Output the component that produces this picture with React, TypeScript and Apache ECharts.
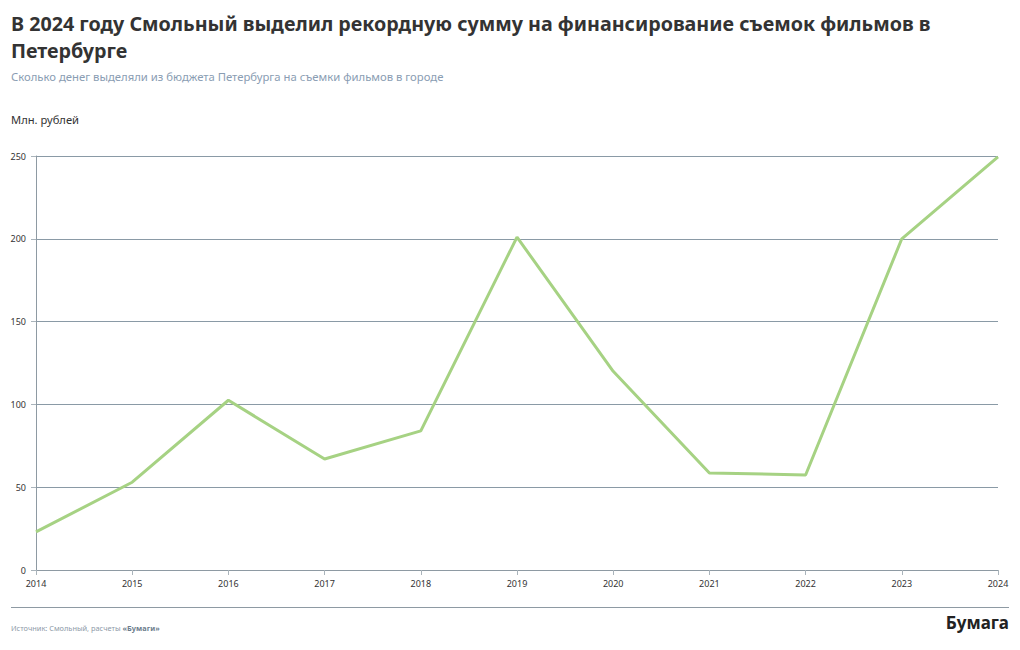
import React, { useEffect, useRef } from "react";
import * as echarts from "echarts";

const years = ["2014", "2015", "2016", "2017", "2018", "2019", "2020", "2021", "2022", "2023", "2024"];
const funding = [23, 53, 102.5, 67, 84, 201, 120, 58.6, 57.4, 200, 249.5];

const titleText = "В 2024 году Смольный выделил рекордную сумму на финансирование съемок фильмов в\nПетербурге";
const subtitleText = "Сколько денег выделяли из бюджета Петербурга на съемки фильмов в городе";
const unitText = "Млн. рублей";

export default function App() {
  const ref = useRef<HTMLDivElement>(null);
  useEffect(() => {
    if (!ref.current) return;
    const chart = echarts.init(ref.current, null, { renderer: "svg" });
    const font = "'Noto Sans', sans-serif";
    chart.setOption({
      animation: false,
      backgroundColor: "#ffffff",
      textStyle: { fontFamily: font },
      grid: { left: 36, right: 22, top: 156, bottom: 80 },
      xAxis: {
        type: "category",
        data: years,
        boundaryGap: false,
        axisLine: { lineStyle: { color: "#8e9aa3", width: 1 } },
        axisTick: { show: true, length: 5, lineStyle: { color: "#aab4bb" } },
        axisLabel: { color: "#333", fontSize: 9, margin: 9, fontFamily: font },
        splitLine: { show: false },
      },
      yAxis: {
        type: "value",
        min: 0,
        max: 250,
        interval: 50,
        axisLine: { show: true, lineStyle: { color: "#8e9aa3", width: 1 } },
        axisTick: { show: true, length: 5, lineStyle: { color: "#aab4bb" } },
        axisLabel: { color: "#333", fontSize: 9, margin: 10, fontFamily: font },
        splitLine: { show: true, lineStyle: { color: "#8a9aa6", width: 1 } },
      },
      series: [
        {
          type: "line",
          data: funding,
          symbol: "none",
          lineStyle: { color: "#a6d283", width: 3 },
        },
      ],
      graphic: [
        {
          type: "text",
          left: 11,
          top: 10,
          style: {
            text: titleText,
            font: "bold 19.7px 'Noto Sans', sans-serif",
            fill: "#333333",
            lineHeight: 27,
          },
        },
        {
          type: "text",
          left: 11,
          top: 71,
          style: {
            text: subtitleText,
            font: "11.3px 'Noto Sans', sans-serif",
            fill: "#8a9db3",
          },
        },
        {
          type: "text",
          left: 11,
          top: 114,
          style: {
            text: unitText,
            font: "11.2px 'Noto Sans', sans-serif",
            fill: "#333333",
          },
        },
        {
          type: "line",
          shape: { x1: 11, y1: 607.5, x2: 1009, y2: 607.5 },
          style: { stroke: "#8e9aa3", lineWidth: 1 },
        },
        {
          type: "text",
          left: 11,
          top: 624,
          style: {
            text: "{a|Источник: Смольный, расчеты }{b|«Бумаги»}",
            rich: {
              a: { fontSize: 7.4, fill: "#8e9aa8", fontFamily: font },
              b: { fontSize: 7.4, fill: "#6b7c8c", fontWeight: "bold", fontFamily: font },
            },
          },
        },
        {
          type: "text",
          right: 11,
          top: 614,
          style: {
            text: "Бумага",
            font: "bold 17px 'Noto Sans', sans-serif",
            fill: "#222222",
          },
        },
      ],
    });
    return () => chart.dispose();
  }, []);
  return <div ref={ref} style={{ width: 1020, height: 650, margin: -8 }} />;
}
